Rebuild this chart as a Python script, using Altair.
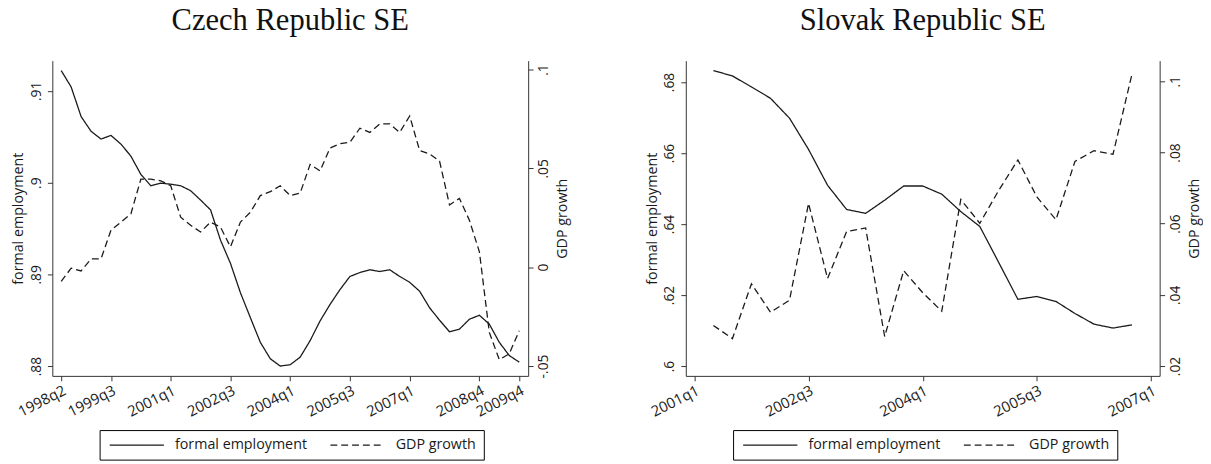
import pandas as pd
import altair as alt

series_names = ["formal employment", "GDP growth"]

# Czech Republic, quarterly from 1998q2
cz_start = "1998q2"
cz_employment = [
    .91222, .91043, .9072, .9056, .90475, .90515, .9042, .90289, .9009, .89966,
    .89994, .89983, .89966, .89912, .8981, .89703, .89373, .8912, .8880, .88528,
    .88259, .8808, .8800, .88015, .88097, .88277, .88492, .88672, .88834, .88977,
    .8902, .8905, .89031, .8905, .88977, .88913, .88816, .88636, .8850, .88374,
    .88403, .88511, .88554, .88457, .88259, .88115, .88043,
]
cz_gdp = [
    -.0072, -.0005, -.0019, .0042, .0042, .0187, .0228, .0270, .0445, .0445,
    .0437, .0412, .0253, .0212, .0178, .0228, .0203, .0103, .0228, .0278,
    .0362, .0382, .0412, .0362, .0375, .0520, .0487, .0603, .0625, .0632,
    .0703, .0682, .0725, .0725, .0682, .0765, .0590, .0573, .0537, .0315,
    .0348, .0237, .0078, -.0330, -.0468, -.0438, -.0322,
]
cz_ticks = ["1998q2", "1999q3", "2001q1", "2002q3", "2004q1", "2005q3", "2007q1", "2008q4", "2009q4"]
cz_emp_ticks = [.88, .89, .9, .91]
cz_gdp_ticks = [-.05, 0, .05, .1]

# Slovak Republic, quarterly from 2001q2
sk_start = "2001q2"
sk_employment = [
    .6832, .6817, .6786, .6754, .6698, .6610, .6509, .6441, .6430, .6467, .6507,
    .6507, .6484, .6435, .6393, .6291, .6188, .6196, .6182, .6148, .6118, .6107, .6116,
]
sk_gdp = [
    .0314, .0277, .0431, .0351, .0385, .0657, .0446, .0578, .0588, .0283, .0468,
    .0406, .0354, .0668, .0601, .0694, .0779, .0675, .0611, .0775, .0805, .0795, .1021,
]
sk_ticks = ["2001q1", "2002q3", "2004q1", "2005q3", "2007q1"]
sk_emp_ticks = [.6, .62, .64, .66, .68]
sk_gdp_ticks = [.02, .04, .06, .08, .1]

INK = "#1a1a1a"
FONT = "Open Sans"


def q_index(label):
    year, q = label.split("q")
    return int(year) * 4 + int(q) - 1


def make_panel(title, start, emp, gdp, ticks, x_pad, emp_dom, emp_ticks, gdp_dom, gdp_ticks, width, legend_x):
    q0 = q_index(start)
    df = pd.DataFrame({
        "q": [q0 + i for i in range(len(emp))] + [q0 + i for i in range(len(gdp))],
        "series": [series_names[0]] * len(emp) + [series_names[1]] * len(gdp),
        "value": emp + gdp,
    })
    tick_q = [q_index(t) for t in ticks]

    x = alt.X(
        "q:Q",
        scale=alt.Scale(domain=[tick_q[0] - x_pad[0], tick_q[-1] + x_pad[1]], nice=False, zero=False),
        axis=alt.Axis(
            values=tick_q, title=None,
            labelExpr="floor(datum.value / 4) + 'q' + (datum.value % 4 + 1)",
            labelAngle=333, labelAlign="right", labelBaseline="top", labelFontSize=15,
            labelOverlap=False, labelFlush=False, labelPadding=2,
        ),
    )
    # long line symbol: custom path reaching past the symbol box, label pushed after it
    dash = alt.StrokeDash(
        "series:N",
        scale=alt.Scale(domain=series_names, range=[[1, 0], [7, 4]]),
        legend=alt.Legend(
            title=None, orient="none", legendX=legend_x, legendY=375,
            direction="horizontal", symbolType="M-1,0H10", symbolSize=100,
            symbolStrokeWidth=1.3, symbolStrokeColor=INK,
            labelFont=FONT, labelFontSize=14.5, labelColor=INK, labelOffset=54,
            labelLimit=300, columnPadding=20, padding=8, strokeColor="black",
        ),
    )
    ylab = "replace(toString(datum.value), '0.', '.')"

    base = alt.Chart(df).mark_line(color=INK, strokeWidth=1.3)
    emp_line = base.transform_filter(alt.datum.series == series_names[0]).encode(
        x=x,
        y=alt.Y("value:Q", scale=alt.Scale(domain=emp_dom, nice=False, zero=False),
                axis=alt.Axis(orient="left", values=emp_ticks, labelExpr=ylab, title="formal employment",
                              labelAngle=270, labelAlign="center", labelBaseline="bottom",
                              titleAngle=270, titlePadding=4)),
        strokeDash=dash,
    )
    gdp_line = base.transform_filter(alt.datum.series == series_names[1]).encode(
        x=x,
        y=alt.Y("value:Q", scale=alt.Scale(domain=gdp_dom, nice=False, zero=False),
                axis=alt.Axis(orient="right", values=gdp_ticks, labelExpr=ylab, title="GDP growth",
                              labelAngle=270, labelAlign="center", labelBaseline="top", labelPadding=4,
                              titleAngle=270, titleBaseline="top", titlePadding=5)),
        strokeDash=dash,
    )
    return alt.layer(emp_line, gdp_line).resolve_scale(y="independent").properties(
        title=alt.TitleParams(title, offset=19, dy=-5), width=width, height=320
    )


left = make_panel("Czech Republic SE", cz_start, cz_employment, cz_gdp, cz_ticks, [0.89, 0.9],
                  [.87893, .9133], cz_emp_ticks, [-.055, .1045], cz_gdp_ticks, 483, 48)
right = make_panel("Slovak Republic SE", sk_start, sk_employment, sk_gdp, sk_ticks, [0.45, 0.45],
                   [.59723, .686], sk_emp_ticks, [.01723, .1058], sk_gdp_ticks, 481, 48)

chart = alt.hconcat(left, right, spacing=76).resolve_scale(
    x="independent", y="independent", strokeDash="independent"
).resolve_legend(strokeDash="independent").properties(
    padding={"left": 3, "top": -6, "right": 2, "bottom": 0}
).configure_view(stroke=None).configure_axis(
    grid=False, domainColor="#333", tickColor="#333", tickSize=5,
    labelFont=FONT, labelFontSize=14, labelColor=INK, labelPadding=4,
    titleFont=FONT, titleFontSize=14.5, titleFontWeight="normal", titleColor=INK,
).configure_title(
    font="Liberation Serif", fontSize=31, fontWeight="normal", color="#111", anchor="middle"
)

chart.save("out.html", embed_options={"renderer": "svg", "actions": False})
